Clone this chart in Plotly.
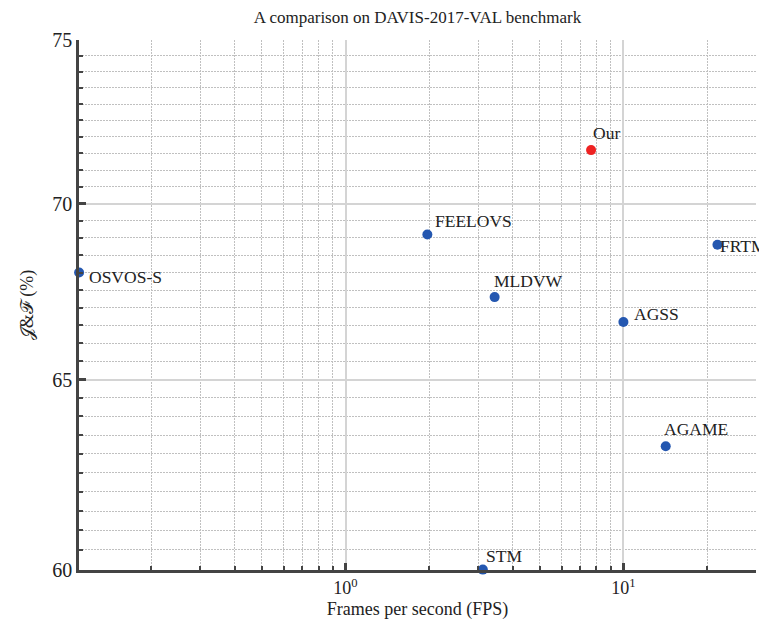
import math
import plotly.graph_objects as go

methods = ["Our", "FEELOVS", "OSVOS-S", "MLDVW", "AGSS", "AGAME", "FRTM", "STM"]
fps = [7.65, 1.97, 0.11, 3.44, 10.0, 14.2, 21.8, 3.12]
jf = [71.6, 69.1, 68.0, 67.3, 66.6, 63.2, 68.8, 60.0]
is_ours = [True, False, False, False, False, False, False, False]

y_major = [60, 65, 70, 75]
x_major = [1, 10]
x_major_text = ["10<sup>0</sup>", "10<sup>1</sup>"]
x_minor = [0.2, 0.3, 0.4, 0.5, 0.6, 0.7, 0.8, 0.9, 2, 3, 4, 5, 6, 7, 8, 9, 20, 30]
y_minor = [v / 2 for v in range(121, 150) if v % 10 != 0]

# label offsets (px) relative to each point: (xshift, yshift)
label_offsets = {
    "Our": (1, 17), "FEELOVS": (7, 13), "OSVOS-S": (9, -4), "MLDVW": (-2, 16),
    "AGSS": (10, 8), "AGAME": (-3, 17), "FRTM": (2, -1), "STM": (2, 14),
}

FONT = "Liberation Serif, Times New Roman, serif"
AX = "#444444"
TXT = "#222222"

fig = go.Figure()
colors = ["#ee2222" if o else "#2457b0" for o in is_ours]
fig.add_trace(go.Scatter(
    x=fps, y=jf, mode="markers",
    marker=dict(size=10, color=colors, line=dict(width=0)),
    cliponaxis=False, showlegend=False, hoverinfo="text", text=methods,
))

for m, xv, yv in zip(methods, fps, jf):
    dx, dy = label_offsets[m]
    fig.add_annotation(x=math.log10(xv), y=math.log10(yv), text=m, showarrow=False,
                       xanchor="left", yanchor="middle", xshift=dx, yshift=dy,
                       borderpad=0, font=dict(family=FONT, size=17.5, color=TXT))

fig.update_layout(
    width=767, height=619,
    margin=dict(l=71, r=19, t=32, b=57, autoexpand=False),
    paper_bgcolor="white", plot_bgcolor="white",
    title=dict(text="A comparison on DAVIS-2017-VAL benchmark", x=0.5, xref="paper", xanchor="center",
               y=1, yref="container", yanchor="top", pad=dict(t=3),
               font=dict(family=FONT, size=17, color=TXT)),
    font=dict(family=FONT, color=TXT),
)

DASH = "1.5px,1.5px"
fig.update_xaxes(
    type="log", range=[math.log10(0.1099), math.log10(30)], automargin=False,
    tickmode="array", tickvals=x_major, ticktext=x_major_text,
    tickfont=dict(family=FONT, size=18, color=TXT),
    showgrid=True, gridcolor="#d4d4d4", gridwidth=1.5,
    showline=True, linecolor=AX, linewidth=2.5, mirror=False,
    ticks="inside", ticklen=7, tickwidth=2.5, tickcolor=AX,
    minor=dict(tickmode="array", tickvals=x_minor, showgrid=True, gridcolor="#c0c0c0",
               griddash=DASH, gridwidth=1.2, ticks="inside", ticklen=4, tickwidth=2, tickcolor=AX),
    title=dict(text="Frames per second (FPS)", font=dict(family=FONT, size=18, color=TXT), standoff=6),
    zeroline=False,
)
fig.update_yaxes(
    type="log", range=[math.log10(59.99), math.log10(75)], automargin=False,
    tickmode="array", tickvals=y_major, ticktext=[str(v) for v in y_major],
    tickfont=dict(family=FONT, size=20, color=TXT),
    showgrid=True, gridcolor="#d4d4d4", gridwidth=1.5,
    showline=True, linecolor=AX, linewidth=2.5, mirror=False,
    ticks="inside", ticklen=7, tickwidth=2.5, tickcolor=AX,
    minor=dict(tickmode="array", tickvals=y_minor, showgrid=True, gridcolor="#c0c0c0",
               griddash=DASH, gridwidth=1.2, ticks="inside", ticklen=4, tickwidth=2, tickcolor=AX),
    title=dict(text="𝒥&ℱ (%)", font=dict(family=FONT, size=18, color=TXT), standoff=14),
    zeroline=False,
)

fig.write_html("out.html")
